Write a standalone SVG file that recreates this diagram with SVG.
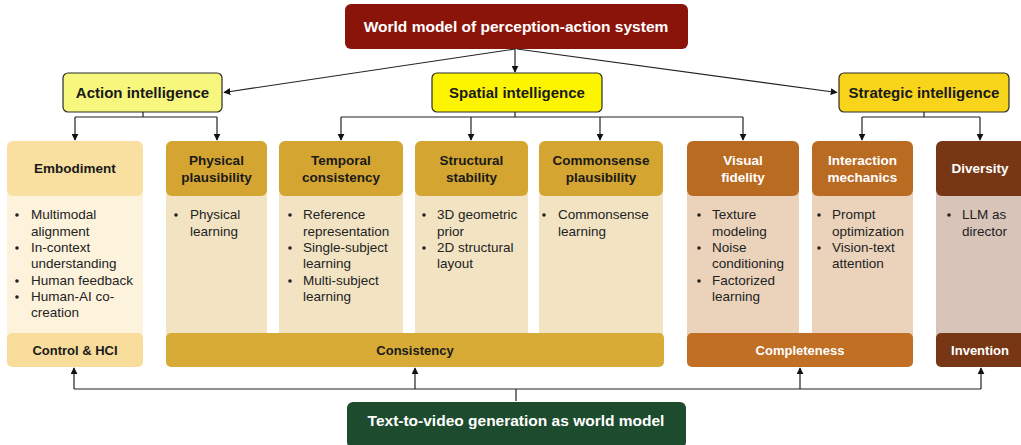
<svg xmlns="http://www.w3.org/2000/svg" width="1021" height="445" viewBox="0 0 1021 445">
<defs>
<marker id="ah" viewBox="0 0 10 10" refX="9" refY="5" markerWidth="7" markerHeight="7" markerUnits="userSpaceOnUse" orient="auto"><path d="M0,0 L10,5 L0,10 z" fill="#111"/></marker>
<style>
text{font-family:"Liberation Sans",Arial,sans-serif;}
.b{font-weight:bold;text-anchor:middle;}
.h{font-size:13.5px;}
.f{font-size:13px;}
.li{font-size:13.5px;fill:#222;}
.w{fill:#fff;}
.d{fill:#1a1a1a;}
.top{stroke:#2b2b2b;stroke-width:1.2;}
.c{fill:none;stroke:#222;stroke-width:1.2;marker-end:url(#ah);}
.l{fill:none;stroke:#222;stroke-width:1.2;}
</style>
</defs>
<rect width="1021" height="445" fill="#fff"/>

<g id="top-node"><rect x="345" y="4" width="343" height="45" rx="6" fill="#8A140A"/><text class="b w" x="516" y="32" font-size="15.5">World model of perception-action system</text></g>

<g id="action-intelligence"><rect class="top" x="63" y="73" width="159" height="39" rx="5" fill="#F7F77D"/><text class="b d" x="142.5" y="98" font-size="15">Action intelligence</text></g>
<g id="spatial-intelligence"><rect class="top" x="432" y="73" width="170" height="39" rx="5" fill="#FDF500"/><text class="b d" x="517" y="98" font-size="15">Spatial intelligence</text></g>
<g id="strategic-intelligence"><rect class="top" x="839" y="73" width="170" height="39" rx="5" fill="#F8D51A"/><text class="b d" x="924" y="98" font-size="15">Strategic intelligence</text></g>

<g id="embodiment">
<rect x="7" y="185" width="136" height="160" fill="#FDF3DC"/>
<rect x="7" y="141" width="136" height="55" rx="6" fill="#F9DFA0"/>
<text class="b h d" x="75" y="173">Embodiment</text>
<g class="li"><circle cx="17" cy="215" r="1.8" fill="#222"/><text x="31" y="219">Multimodal</text><text x="31" y="235.5">alignment</text>
<circle cx="17" cy="248" r="1.8" fill="#222"/><text x="31" y="252">In-context</text><text x="31" y="268">understanding</text>
<circle cx="17" cy="281" r="1.8" fill="#222"/><text x="31" y="284.5">Human feedback</text>
<circle cx="17" cy="297" r="1.8" fill="#222"/><text x="31" y="301">Human-AI co-</text><text x="31" y="317">creation</text></g>
</g>

<g id="physical-plausibility">
<rect x="166" y="185" width="101" height="160" fill="#F2E4C2"/>
<rect x="166" y="141" width="101" height="55" rx="6" fill="#D4A530"/>
<text class="b h d" x="216.5" y="165">Physical</text><text class="b h d" x="216.5" y="182">plausibility</text>
<g class="li"><circle cx="176" cy="215" r="1.8" fill="#222"/><text x="190" y="219">Physical</text><text x="190" y="235.5">learning</text></g>
</g>

<g id="temporal-consistency">
<rect x="279" y="185" width="124" height="160" fill="#F2E4C2"/>
<rect x="279" y="141" width="124" height="55" rx="6" fill="#D4A530"/>
<text class="b h d" x="341" y="165">Temporal</text><text class="b h d" x="341" y="182">consistency</text>
<g class="li"><circle cx="290" cy="215" r="1.8" fill="#222"/><text x="303" y="219">Reference</text><text x="303" y="235.5">representation</text>
<circle cx="290" cy="248" r="1.8" fill="#222"/><text x="303" y="252">Single-subject</text><text x="303" y="268">learning</text>
<circle cx="290" cy="281" r="1.8" fill="#222"/><text x="303" y="284.5">Multi-subject</text><text x="303" y="301">learning</text></g>
</g>

<g id="structural-stability">
<rect x="415" y="185" width="113" height="160" fill="#F2E4C2"/>
<rect x="415" y="141" width="113" height="55" rx="6" fill="#D4A530"/>
<text class="b h d" x="471.5" y="165">Structural</text><text class="b h d" x="471.5" y="182">stability</text>
<g class="li"><circle cx="424" cy="215" r="1.8" fill="#222"/><text x="437" y="219">3D geometric</text><text x="437" y="235.5">prior</text>
<circle cx="424" cy="248" r="1.8" fill="#222"/><text x="437" y="252">2D structural</text><text x="437" y="268">layout</text></g>
</g>

<g id="commonsense-plausibility">
<rect x="539" y="185" width="124" height="160" fill="#F2E4C2"/>
<rect x="539" y="141" width="124" height="55" rx="6" fill="#D4A530"/>
<text class="b h d" x="601" y="165">Commonsense</text><text class="b h d" x="601" y="182">plausibility</text>
<g class="li"><circle cx="544" cy="215" r="1.8" fill="#222"/><text x="558" y="219">Commonsense</text><text x="558" y="235.5">learning</text></g>
</g>

<g id="visual-fidelity">
<rect x="687" y="185" width="112" height="160" fill="#EBD3BB"/>
<rect x="687" y="141" width="112" height="55" rx="6" fill="#BA6B22"/>
<text class="b h w" x="743" y="165">Visual</text><text class="b h w" x="743" y="182">fidelity</text>
<g class="li"><circle cx="699" cy="215" r="1.8" fill="#222"/><text x="712" y="219">Texture</text><text x="712" y="235.5">modeling</text>
<circle cx="699" cy="248" r="1.8" fill="#222"/><text x="712" y="252">Noise</text><text x="712" y="268">conditioning</text>
<circle cx="699" cy="281" r="1.8" fill="#222"/><text x="712" y="284.5">Factorized</text><text x="712" y="301">learning</text></g>
</g>

<g id="interaction-mechanics">
<rect x="812" y="185" width="101" height="160" fill="#EBD3BB"/>
<rect x="812" y="141" width="101" height="55" rx="6" fill="#BA6B22"/>
<text class="b h w" x="862.5" y="165">Interaction</text><text class="b h w" x="862.5" y="182">mechanics</text>
<g class="li"><circle cx="819" cy="215" r="1.8" fill="#222"/><text x="832" y="219">Prompt</text><text x="832" y="235.5">optimization</text>
<circle cx="819" cy="248" r="1.8" fill="#222"/><text x="832" y="252">Vision-text</text><text x="832" y="268">attention</text></g>
</g>

<g id="diversity">
<rect x="936" y="185" width="90" height="160" fill="#D8C4B8"/>
<rect x="936" y="141" width="92" height="55" rx="6" fill="#773714"/>
<text class="b h w" x="980" y="173">Diversity</text>
<g class="li"><circle cx="949" cy="215" r="1.8" fill="#222"/><text x="962" y="219">LLM as</text><text x="962" y="235.5">director</text></g>
</g>

<g id="control-hci"><rect x="7" y="333" width="136" height="34" rx="5" fill="#F8DC9C"/><text class="b f d" x="75" y="355">Control &amp; HCI</text></g>
<g id="consistency"><rect x="166" y="333" width="498" height="34" rx="5" fill="#D8AA36"/><text class="b f d" x="415" y="355">Consistency</text></g>
<g id="completeness"><rect x="687" y="333" width="226" height="34" rx="5" fill="#C06F24"/><text class="b f w" x="800" y="355">Completeness</text></g>
<g id="invention"><rect x="936" y="333" width="92" height="34" rx="5" fill="#773714"/><text class="b f w" x="980" y="355">Invention</text></g>

<g id="bottom-node"><rect x="347" y="402" width="339" height="46" rx="6" fill="#1D4B2E"/><text class="b w" x="516" y="426" font-size="15.5">Text-to-video generation as world model</text></g>

<g id="connectors">
<path class="c" d="M515,49 L224,92.5"/>
<path class="c" d="M515,49 L515,72"/>
<path class="c" d="M517,49 L837,92.5"/>
<path class="l" d="M143,112 V117 M75,117 H217 M515,112 V117 M341,117 H743 M924,112 V117 M862,117 H980"/>
<path class="c" d="M75,117 V140"/>
<path class="c" d="M217,117 V140"/>
<path class="c" d="M341,117 V140"/>
<path class="c" d="M471,117 V140"/>
<path class="c" d="M600,117 V140"/>
<path class="c" d="M743,117 V140"/>
<path class="c" d="M862,117 V140"/>
<path class="c" d="M980,117 V140"/>
<path class="l" d="M516,401 V389 M74,389 H981"/>
<path class="c" d="M74,389 V368"/>
<path class="c" d="M415,389 V368"/>
<path class="c" d="M800,389 V368"/>
<path class="c" d="M981,389 V368"/>
</g>
</svg>
